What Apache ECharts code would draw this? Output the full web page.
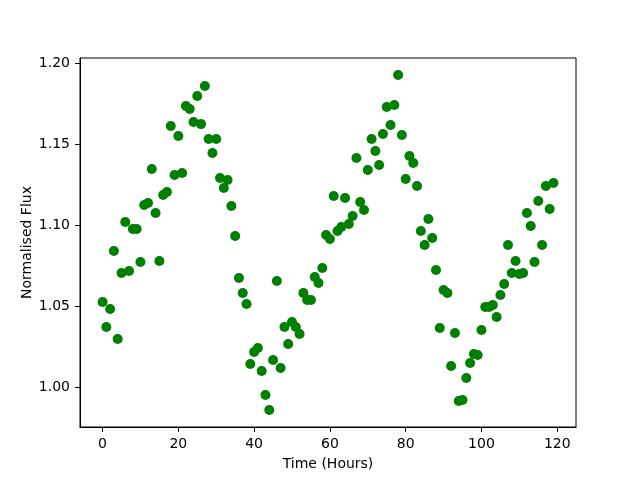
<!DOCTYPE html>
<html>
<head>
<meta charset="utf-8">
<script src="https://cdn.jsdelivr.net/npm/echarts@6/dist/echarts.min.js"></script>
<style>
  html, body { margin: 0; padding: 0; background: #fff; }
  #chart { width: 640px; height: 480px; }
</style>
</head>
<body>
<div id="chart"></div>
<script>
// time in hours, one reading per hour
var hours = [];
for (var h = 0; h < 120; h++) hours.push(h);

// normalised flux
var flux = [
  1.0525, 1.0370, 1.0481, 1.0840, 1.0296, 1.0704, 1.1019, 1.0716, 1.0975, 1.0975,
  1.0772, 1.1123, 1.1136, 1.1346, 1.1074, 1.0778, 1.1185, 1.1204, 1.1611, 1.1309,
  1.1549, 1.1321, 1.1735, 1.1716, 1.1636, 1.1796, 1.1623, 1.1858, 1.1531, 1.1444,
  1.1531, 1.1290, 1.1228, 1.1278, 1.1117, 1.0932, 1.0673, 1.0580, 1.0512, 1.0142,
  1.0216, 1.0241, 1.0099, 0.9951, 0.9858, 1.0167, 1.0654, 1.0117, 1.0370, 1.0265,
  1.0401, 1.0370, 1.0327, 1.0580, 1.0537, 1.0537, 1.0679, 1.0642, 1.0735, 1.0938,
  1.0914, 1.1179, 1.0963, 1.0988, 1.1167, 1.1006, 1.1056, 1.1414, 1.1142, 1.1093,
  1.1340, 1.1531, 1.1457, 1.1370, 1.1562, 1.1728, 1.1617, 1.1741, 1.1926, 1.1556,
  1.1284, 1.1426, 1.1383, 1.1241, 1.0963, 1.0877, 1.1037, 1.0920, 1.0722, 1.0364,
  1.0599, 1.0580, 1.0130, 1.0333, 0.9914, 0.9920, 1.0056, 1.0148, 1.0204, 1.0198,
  1.0352, 1.0494, 1.0494, 1.0506, 1.0432, 1.0568, 1.0636, 1.0877, 1.0704, 1.0778,
  1.0698, 1.0704, 1.1074, 1.0994, 1.0772, 1.1148, 1.0877, 1.1241, 1.1099, 1.1259
];

var xTicks = [0, 20, 40, 60, 80, 100, 120];
var yTicks = [1.00, 1.05, 1.10, 1.15, 1.20];

var points = hours.map(function (t, i) { return [t, flux[i]]; });

var myChart = echarts.init(document.getElementById('chart'));
var font = 'DejaVu Sans';
var option = {
    animation: false,
    grid: {
        left: 80,
        right: 64,
        top: 58,
        bottom: 53,
        show: true,
        borderColor: '#000',
        borderWidth: 1,
        backgroundColor: 'transparent'
    },
    xAxis: {
        type: 'value',
        min: -5.95,
        max: 124.95,
        name: 'Time (Hours)',
        nameLocation: 'middle',
        nameGap: 30,
        nameMoveOverlap: false,
        nameTextStyle: { color: '#000', fontSize: 14, fontFamily: font },
        axisLine: { show: true, onZero: false, lineStyle: { color: '#000', width: 1 } },
        axisTick: { show: true, inside: false, length: 5, customValues: xTicks, lineStyle: { color: '#000' } },
        axisLabel: { color: '#000', fontSize: 14, fontFamily: font, margin: 10, customValues: xTicks },
        splitLine: { show: false }
    },
    yAxis: {
        type: 'value',
        min: 0.9753,
        max: 1.2031,
        name: 'Normalised Flux',
        nameLocation: 'middle',
        nameGap: 46,
        nameMoveOverlap: false,
        nameTextStyle: { color: '#000', fontSize: 14, fontFamily: font },
        axisLine: { show: true, onZero: false, lineStyle: { color: '#000', width: 1 } },
        axisTick: { show: true, inside: false, length: 5, customValues: yTicks, lineStyle: { color: '#000' } },
        axisLabel: {
            color: '#000', fontSize: 14, fontFamily: font, margin: 10, customValues: yTicks,
            formatter: function (v) { return v.toFixed(2); }
        },
        splitLine: { show: false }
    },
    series: [{
        type: 'scatter',
        data: points,
        symbol: 'circle',
        symbolSize: 10,
        itemStyle: { color: '#008000', opacity: 1 }
    }]
};
myChart.setOption(option, true);
</script>
</body>
</html>
